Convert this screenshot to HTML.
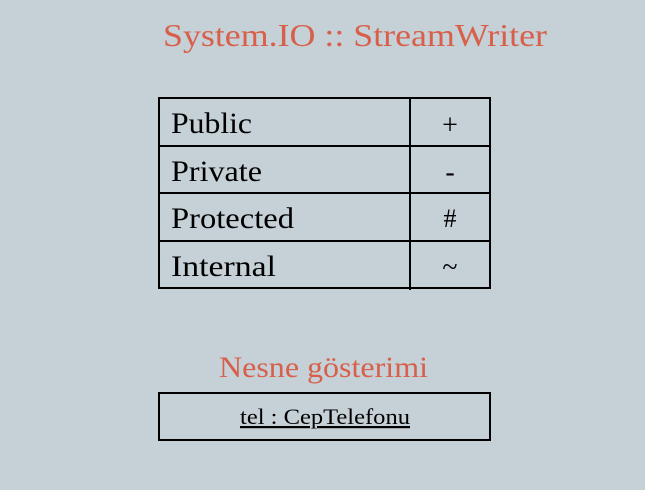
<!DOCTYPE html>
<html><head><style>
html,body{margin:0;padding:0;background:#c5d0d7;}
svg{display:block;}
text{font-family:"Liberation Serif",serif;}
</style></head><body>
<svg width="645" height="490" viewBox="0 0 645 490" xmlns="http://www.w3.org/2000/svg">
<rect width="645" height="490" fill="#c5d0d7"/>
<text x="163" y="46" font-size="32" fill="#d8604b" textLength="384" lengthAdjust="spacingAndGlyphs">System.IO :: StreamWriter</text>
<g stroke="#000" stroke-width="2" fill="none">
<rect x="159" y="98" width="331" height="190"/>
<line x1="410" y1="97" x2="410" y2="290"/>
<line x1="159" y1="146" x2="490" y2="146"/>
<line x1="159" y1="193" x2="490" y2="193"/>
<line x1="159" y1="241" x2="490" y2="241"/>
</g>
<g font-size="30" fill="#000">
<text x="171" y="133" textLength="81" lengthAdjust="spacingAndGlyphs">Public</text>
<text x="171" y="181" textLength="91" lengthAdjust="spacingAndGlyphs">Private</text>
<text x="171" y="228" textLength="123" lengthAdjust="spacingAndGlyphs">Protected</text>
<text x="171" y="276" textLength="105" lengthAdjust="spacingAndGlyphs">Internal</text>
</g>
<g font-size="28" fill="#000" text-anchor="middle">
<text x="450" y="134">+</text>
<text x="450" y="181">-</text>
<text x="450" y="227" font-size="26">#</text>
<text x="450" y="276">~</text>
</g>
<text x="219" y="377" font-size="30" fill="#d8604b" textLength="209" lengthAdjust="spacingAndGlyphs">Nesne gösterimi</text>
<rect x="159" y="393" width="331" height="47" fill="none" stroke="#000" stroke-width="2"/>
<text x="240" y="424" font-size="22" fill="#000" text-decoration="underline" textLength="170" lengthAdjust="spacingAndGlyphs">tel : CepTelefonu</text>
</svg>
</body></html>
